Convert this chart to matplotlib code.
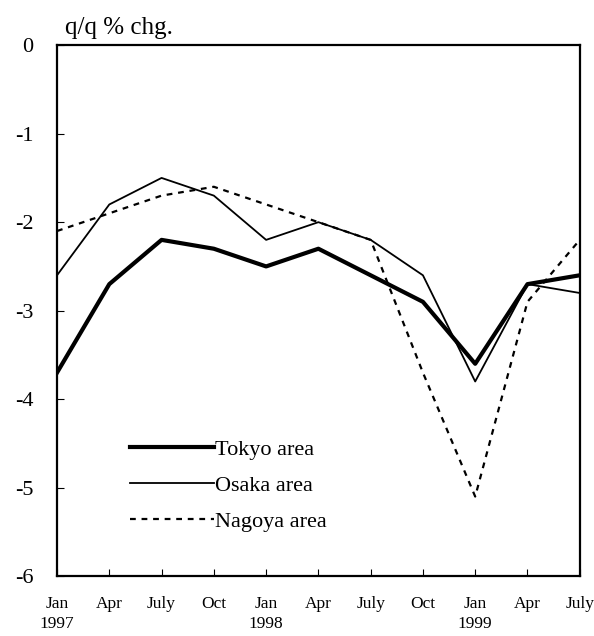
import numpy as np
import matplotlib
matplotlib.use("Agg")
import matplotlib.pyplot as plt

plt.rcParams['font.family'] = ['Liberation Serif', 'DejaVu Serif']
plt.rcParams['axes.unicode_minus'] = False

months = ["Jan", "Apr", "July", "Oct", "Jan", "Apr", "July", "Oct", "Jan", "Apr", "July"]
years = ["1997", "", "", "", "1998", "", "", "", "1999", "", ""]
tokyo = [-3.7, -2.7, -2.2, -2.3, -2.5, -2.3, -2.6, -2.9, -3.6, -2.7, -2.6]
osaka = [-2.6, -1.8, -1.5, -1.7, -2.2, -2.0, -2.2, -2.6, -3.8, -2.7, -2.8]
nagoya = [-2.1, -1.9, -1.7, -1.6, -1.8, -2.0, -2.2, -3.7, -5.1, -2.9, -2.2]

x = np.arange(len(months))

fig = plt.figure(figsize=(5.94, 6.36), dpi=100)
ax = fig.add_axes([0.096, 0.094, 0.880, 0.835])

ax.plot(x, tokyo, color='black', lw=3.0, label='Tokyo area')
ax.plot(x, osaka, color='black', lw=1.3, label='Osaka area')
ax.plot(x, nagoya, color='black', lw=1.6, dashes=(2.6, 2.6), label='Nagoya area')

ax.set_xlim(0, len(months) - 1)
ax.set_ylim(-6, 0)
ax.set_yticks(range(-6, 1))
ax.set_yticklabels([str(v) for v in range(-6, 1)], fontsize=16)
ax.set_xticks(x)
# two-line label only where a year starts
ax.set_xticklabels([m + "\n" + y if y else m for m, y in zip(months, years)],
                   fontsize=12.5, linespacing=1.35)
ax.tick_params(axis='both', direction='in', length=5, width=0.8)
ax.tick_params(axis='y', pad=17)
ax.tick_params(axis='x', pad=14)
for s in ax.spines.values():
    s.set_linewidth(1.6)

ax.text(0.015, 1.012, "q/q % chg.", transform=ax.transAxes, fontsize=18, va='bottom')

leg = ax.legend(loc='lower left', bbox_to_anchor=(0.102, 0.046), frameon=False,
                fontsize=16, handlelength=3.75, handletextpad=0.05, labelspacing=0.69)

fig.savefig('out.png', dpi=100)
